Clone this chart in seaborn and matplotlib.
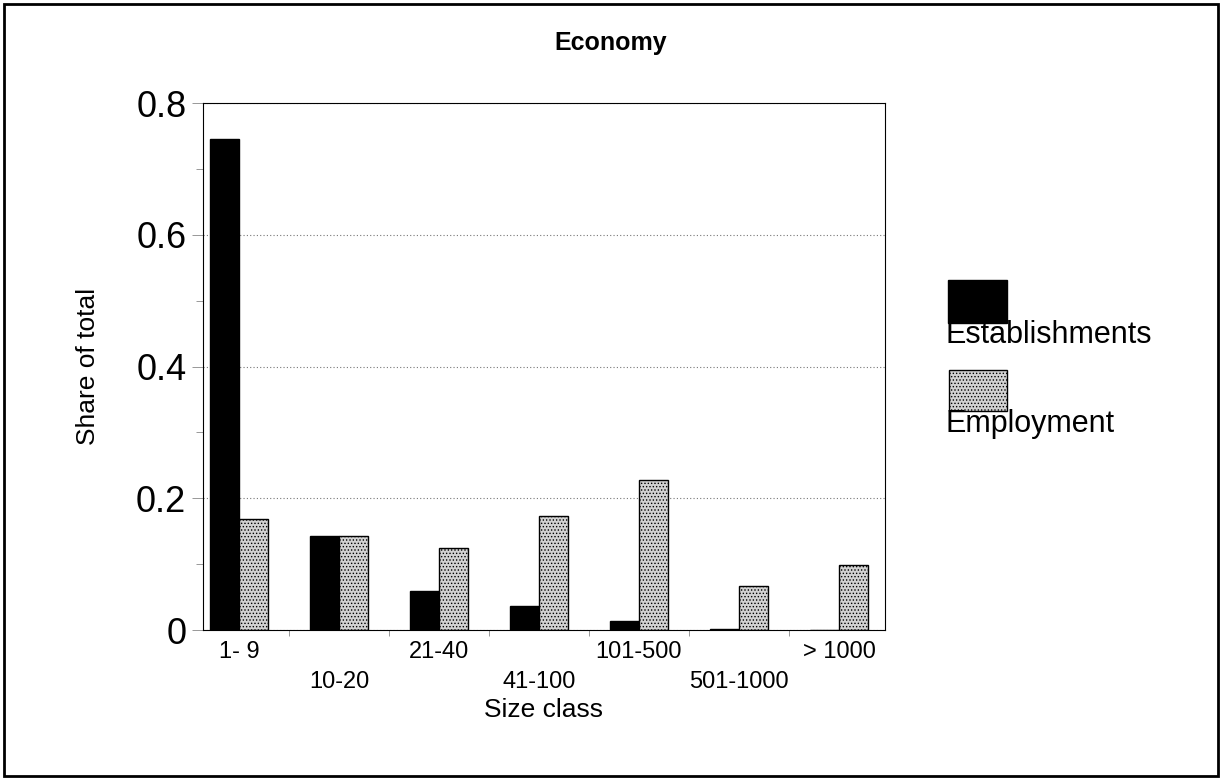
import numpy as np
import pandas as pd
import matplotlib as mpl
mpl.use("Agg")
import matplotlib.pyplot as plt
from matplotlib.patches import Rectangle
from matplotlib.ticker import FixedLocator
import seaborn as sns

# data
size_classes = ['1- 9', '10-20', '21-40', '41-100', '101-500', '501-1000', '> 1000']
establishments = [0.745, 0.142, 0.059, 0.037, 0.014, 0.001, 0.0005]
employment = [0.169, 0.143, 0.125, 0.173, 0.227, 0.067, 0.098]
series = ['Establishments', 'Employment']

df = pd.DataFrame({
    'size_class': size_classes * 2,
    'share': establishments + employment,
    'series': [series[0]] * 7 + [series[1]] * 7,
})

sns.set_style("white")
plt.rcParams['font.family'] = ['Liberation Sans', 'DejaVu Sans']
plt.rcParams['text.color'] = 'black'
plt.rcParams['axes.labelcolor'] = 'black'
plt.rcParams['xtick.color'] = 'black'
plt.rcParams['ytick.color'] = 'black'
plt.rcParams['hatch.color'] = '#8a8a8a'
plt.rcParams['hatch.linewidth'] = 0.6

fig = plt.figure(figsize=(12.22, 7.80), dpi=100)
ax = fig.add_axes([0.1661, 0.1923, 0.5581, 0.6756])

sns.barplot(data=df, x='size_class', y='share', hue='series', order=size_classes,
            hue_order=series, palette=['black', '#d2d2d2'], width=0.58, gap=0,
            edgecolor='black', linewidth=1.0, saturation=1, legend=False, ax=ax)

# dotted texture on the employment bars
for p in ax.patches[len(size_classes):]:
    p.set_hatch('.....')

ax.set_xlim(-0.36, 6.46)
ax.set_ylim(0, 0.8)
ax.yaxis.set_major_locator(FixedLocator([0, 0.2, 0.4, 0.6, 0.8]))
ax.set_yticklabels(['0', '0.2', '0.4', '0.6', '0.8'], fontsize=26)
ax.yaxis.set_minor_locator(FixedLocator([0.1, 0.3, 0.5, 0.7]))
ax.grid(axis='y', which='major', linestyle=(0, (1, 2)), color='#777777', linewidth=0.8)
ax.set_axisbelow(True)

# staggered tick labels
labels = [s if i % 2 == 0 else '\n' + s for i, s in enumerate(size_classes)]
ax.set_xticks(range(len(size_classes)))
ax.set_xticklabels(labels, fontsize=17, linespacing=1.45)
ax.xaxis.set_minor_locator(FixedLocator(np.arange(0.5, 6.5, 1)))
ax.tick_params(axis='x', which='major', length=0, pad=8)
ax.tick_params(axis='x', which='minor', length=4, direction='out', color='#888888', width=0.6)
ax.tick_params(axis='y', which='major', length=8, direction='out', color='#888888', width=0.6, pad=4)
ax.tick_params(axis='y', which='minor', length=5, direction='out', color='#888888', width=0.6)
ax.tick_params(bottom=True, left=True, which='both')

for s in ax.spines.values():
    s.set_visible(True)
    s.set_color('black')
    s.set_linewidth(0.8)

ax.set_xlabel('Size class', fontsize=19, labelpad=4)
ax.set_ylabel('Share of total', fontsize=19, labelpad=26)
fig.text(0.5, 0.945, 'Economy', fontsize=18, fontweight='bold', ha='center', va='center')

# legend drawn by hand: swatch with the label underneath
fig.add_artist(Rectangle((948 / 1222, 1 - 323 / 780), 59 / 1222, 43 / 780,
                         transform=fig.transFigure, facecolor='black', edgecolor='black'))
fig.text(946 / 1222, 1 - 335 / 780, 'Establishments', fontsize=22, ha='left', va='center')
fig.add_artist(Rectangle((949 / 1222, 1 - 411 / 780), 58 / 1222, 41 / 780,
                         transform=fig.transFigure, facecolor='#d2d2d2', edgecolor='black',
                         hatch='.....', linewidth=1.0))
fig.text(946 / 1222, 1 - 424 / 780, 'Employment', fontsize=22, ha='left', va='center')

# outer frame
fig.add_artist(Rectangle((0.003, 0.005), 0.994, 0.99, transform=fig.transFigure,
                         fill=False, edgecolor='black', linewidth=2))

fig.savefig('out.png', dpi=100)
